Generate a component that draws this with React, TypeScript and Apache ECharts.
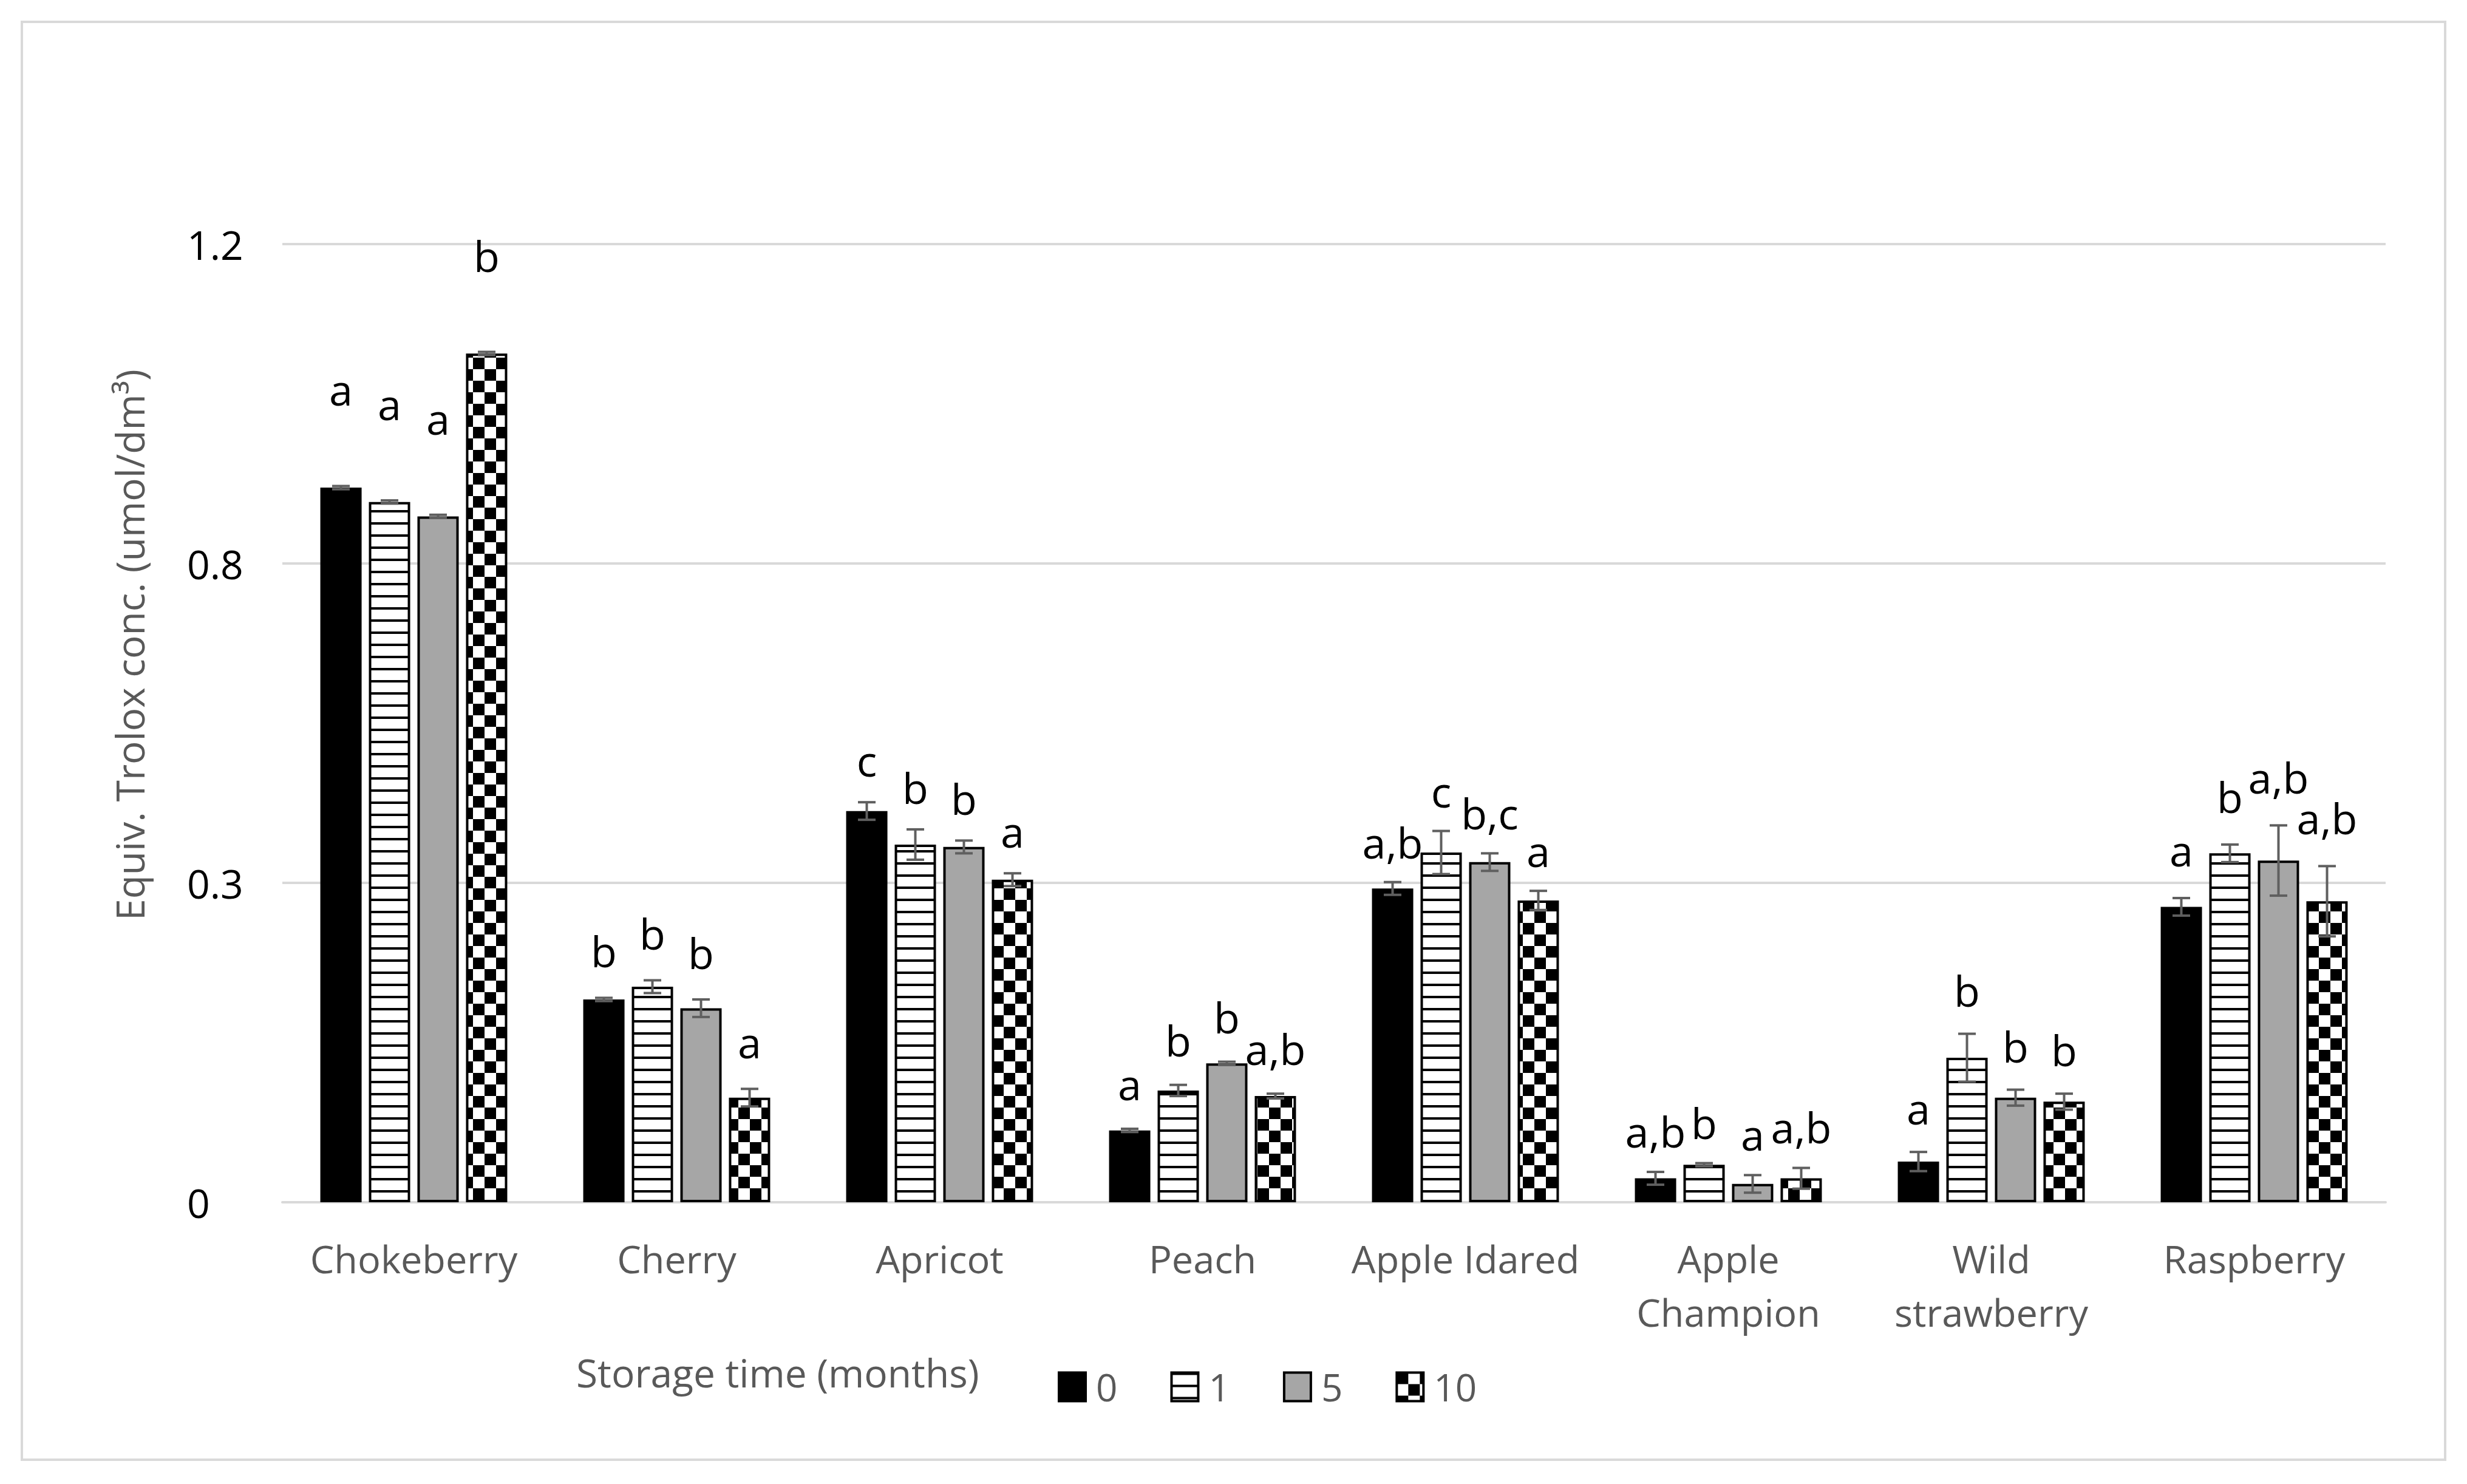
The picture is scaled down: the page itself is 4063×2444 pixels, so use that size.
import React, { useEffect, useRef } from "react";
import * as echarts from "echarts";

// ---------- data ----------
const CATEGORIES = [
  "Chokeberry",
  "Cherry",
  "Apricot",
  "Peach",
  "Apple Idared",
  "Apple\nChampion",
  "Wild\nstrawberry",
  "Raspberry",
];
const SERIES_NAMES = ["0", "1", "5", "10"];

const VALUES_0 = [0.895, 0.254, 0.49, 0.09, 0.393, 0.03, 0.051, 0.37];
const VALUES_1 = [0.877, 0.27, 0.448, 0.14, 0.438, 0.047, 0.181, 0.437];
const VALUES_5 = [0.859, 0.243, 0.445, 0.174, 0.426, 0.023, 0.131, 0.428];
const VALUES_10 = [1.063, 0.131, 0.404, 0.133, 0.378, 0.03, 0.126, 0.377];

const ERR_0 = [0.002, 0.002, 0.011, 0.002, 0.008, 0.008, 0.012, 0.011];
const ERR_1 = [0.002, 0.008, 0.019, 0.007, 0.027, 0.002, 0.03, 0.011];
const ERR_5 = [0.002, 0.011, 0.008, 0.002, 0.011, 0.011, 0.01, 0.044];
const ERR_10 = [0.002, 0.011, 0.008, 0.003, 0.012, 0.013, 0.01, 0.044];

const LETTERS_0 = ["a", "b", "c", "a", "a,b", "a,b", "a", "a"];
const LETTERS_1 = ["a", "b", "b", "b", "c", "b", "b", "b"];
const LETTERS_5 = ["a", "b", "b", "b", "b,c", "a", "b", "a,b"];
const LETTERS_10 = ["b", "a", "a", "a,b", "a", "a,b", "b", "a,b"];

const TICK_LABELS = ["0", "0.3", "0.8", "1.2"];

const VALUES = [VALUES_0, VALUES_1, VALUES_5, VALUES_10];
const ERRORS = [ERR_0, ERR_1, ERR_5, ERR_10];
const LETTERS = [LETTERS_0, LETTERS_1, LETTERS_5, LETTERS_10];

// ---------- layout / style constants ----------
const W = 4063;
const H = 2444;
const BAR_W = 68;
const BAR_GAP = 12;
const LETTER_GAP = [140, 58, 50, 55, 47, 48, 53, 60];
const FONT = "'Open Sans', 'Noto Sans', sans-serif";
const GRAY_TEXT = "#595959";
const GRID_COLOR = "#d9d9d9";
const ERR_COLOR = "#5f5f5f";

function makeStripe() {
  const c = document.createElement("canvas");
  c.width = 20;
  c.height = 20;
  const ctx = c.getContext("2d")!;
  ctx.fillStyle = "#ffffff";
  ctx.fillRect(0, 0, 20, 20);
  ctx.fillStyle = "#000000";
  ctx.fillRect(0, 0, 20, 4);
  return { image: c, repeat: "repeat", imageWidth: 20, imageHeight: 20 } as any;
}

function makeChecker() {
  const s = 19;
  const c = document.createElement("canvas");
  c.width = s * 2;
  c.height = s * 2;
  const ctx = c.getContext("2d")!;
  ctx.fillStyle = "#ffffff";
  ctx.fillRect(0, 0, s * 2, s * 2);
  ctx.fillStyle = "#000000";
  ctx.fillRect(0, 0, s, s);
  ctx.fillRect(s, s, s, s);
  return { image: c, repeat: "repeat", imageWidth: s * 2, imageHeight: s * 2 } as any;
}

export default function App() {
  const ref = useRef<HTMLDivElement>(null);

  useEffect(() => {
    if (!ref.current) return;
    const chart = echarts.init(ref.current, undefined, { renderer: "svg" });

    const fills: any[] = ["#000000", makeStripe(), "#a6a6a6", makeChecker()];
    const pitch = BAR_W + BAR_GAP;
    const n = SERIES_NAMES.length;
    const offsets = SERIES_NAMES.map((_, i) => (i - (n - 1) / 2) * pitch);

    const barSeries = SERIES_NAMES.map((name, s) => ({
      name,
      type: "bar",
      data: VALUES[s],
      barWidth: BAR_W,
      barGap: ((BAR_GAP / BAR_W) * 100).toFixed(1) + "%",
      itemStyle: { color: fills[s], borderColor: "#000000", borderWidth: 4 },
      z: 2,
    }));

    const errSeries = SERIES_NAMES.map((name, s) => ({
      name: "err-" + name,
      type: "custom",
      z: 5,
      data: CATEGORIES.map((_, i) => [i, VALUES[s][i], ERRORS[s][i]]),
      encode: { x: 0, y: 1 },
      renderItem: (params: any, api: any) => {
        const ci = api.value(0);
        const v = api.value(1);
        const e = api.value(2);
        const base = api.coord([ci, v]);
        const x = base[0] + offsets[s];
        const yTop = api.coord([ci, v + e])[1];
        const yBot = api.coord([ci, v - e])[1];
        const cap = 14.5;
        const lineStyle = { stroke: ERR_COLOR, lineWidth: 4 };
        const letter = LETTERS[s][params.dataIndex];
        return {
          type: "group",
          children: [
            { type: "line", shape: { x1: x, y1: yTop, x2: x, y2: yBot }, style: lineStyle },
            { type: "line", shape: { x1: x - cap, y1: yTop, x2: x + cap, y2: yTop }, style: lineStyle },
            { type: "line", shape: { x1: x - cap, y1: yBot, x2: x + cap, y2: yBot }, style: lineStyle },
            {
              type: "text",
              x,
              y: yTop - LETTER_GAP[ci] + 16,
              style: {
                text: letter,
                fill: "#000000",
                fontSize: 70,
                fontFamily: FONT,
                align: "center",
                verticalAlign: "bottom",
              },
            },
          ],
        };
      },
    }));

    chart.setOption({
      animation: false,
      backgroundColor: "#ffffff",
      grid: { left: 465, right: 134, top: 402, bottom: 464, containLabel: false },
      legend: {
        data: SERIES_NAMES,
        left: 1742,
        top: 2253,
        padding: 0,
        orient: "horizontal",
        icon: "rect",
        itemWidth: 44,
        itemHeight: 47,
        itemGap: 87,
        selectedMode: false,
        itemStyle: { borderColor: "#000000", borderWidth: 4 },
        textStyle: {
          fontSize: 62,
          fontFamily: FONT,
          color: GRAY_TEXT,
          padding: [0, 0, 0, 12],
        },
      },
      xAxis: {
        type: "category",
        data: CATEGORIES,
        axisLine: { show: true, lineStyle: { color: GRID_COLOR, width: 4 } },
        axisTick: { show: false },
        axisLabel: {
          color: GRAY_TEXT,
          fontSize: 63,
          fontFamily: FONT,
          lineHeight: 88,
          margin: 48,
          interval: 0,
        },
      },
      yAxis: {
        type: "value",
        min: 0,
        max: 1.2,
        interval: 0.4,
        axisLine: { show: false },
        axisTick: { show: false },
        splitLine: { show: true, lineStyle: { color: GRID_COLOR, width: 4 } },
        axisLabel: {
          color: "#000000",
          fontSize: 66,
          fontFamily: FONT,
          align: "left",
          margin: 157,
          formatter: (v: number) => TICK_LABELS[Math.round(v / 0.4)] ?? String(v),
        },
      },
      graphic: [
        {
          type: "rect",
          shape: { x: 36, y: 36, width: 3991, height: 2368 },
          style: { fill: "none", stroke: GRID_COLOR, lineWidth: 4 },
          silent: true,
          z: -10,
        },
        {
          type: "text",
          x: 213,
          y: 1062,
          rotation: Math.PI / 2,
          style: {
            text: "Equiv. Trolox conc. (umol/dm³)",
            fontSize: 64,
            fontFamily: FONT,
            fill: GRAY_TEXT,
            align: "center",
            verticalAlign: "middle",
          },
        },
        {
          type: "text",
          x: 949,
          y: 2260,
          style: {
            text: "Storage time (months)",
            fontSize: 64,
            fontFamily: FONT,
            fill: GRAY_TEXT,
            align: "left",
            verticalAlign: "middle",
          },
        },
      ],
      series: [...barSeries, ...errSeries],
    } as any);

    return () => chart.dispose();
  }, []);

  return (
    <div
      ref={ref}
      style={{ position: "fixed", left: 0, top: 0, width: W, height: H, background: "#ffffff" }}
    />
  );
}
